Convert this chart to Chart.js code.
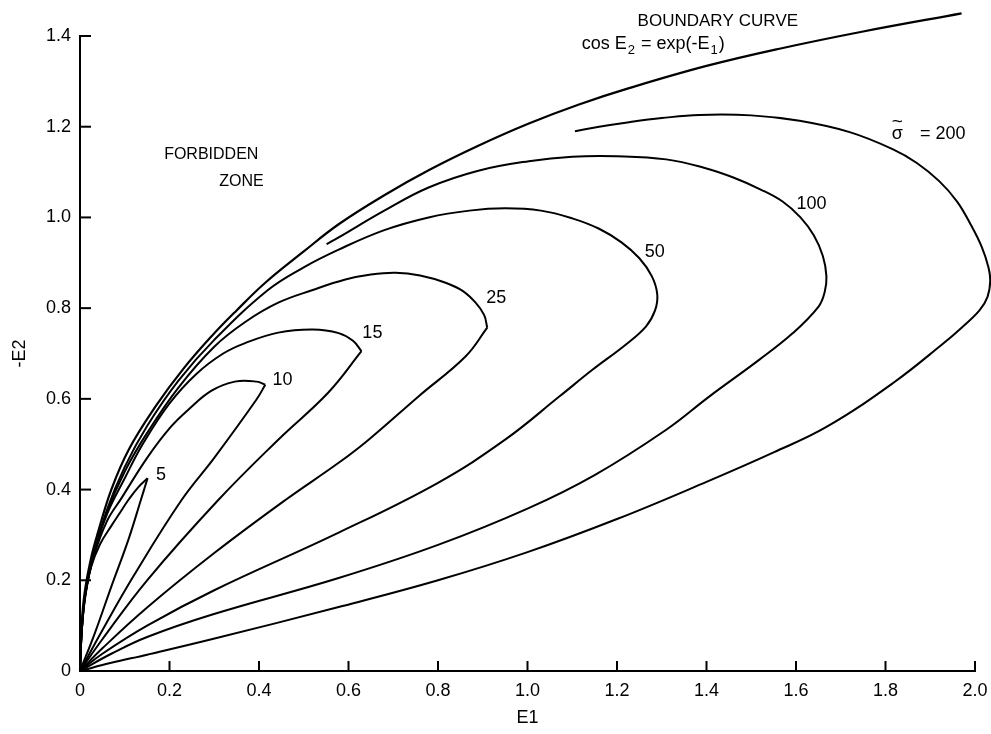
<!DOCTYPE html>
<html><head><meta charset="utf-8">
<script src="https://cdn.jsdelivr.net/npm/chart.js@4.4.0/dist/chart.umd.min.js"></script>
<style>html,body{margin:0;padding:0;background:#fff;}canvas{display:block;}</style>
</head><body>
<canvas id="c" width="991" height="734"></canvas>
<script>
// ---- tick labels ----
const xTickValues = [0,0.2,0.4,0.6,0.8,1.0,1.2,1.4,1.6,1.8,2.0];
const xTickLabels = ['0','0.2','0.4','0.6','0.8','1.0','1.2','1.4','1.6','1.8','2.0'];
const yTickValues = [0,0.2,0.4,0.6,0.8,1.0,1.2,1.4];
const yTickLabels = ['0','0.2','0.4','0.6','0.8','1.0','1.2','1.4'];

// ---- boundary curve  cos E2 = exp(-E1) ----
const boundaryE1 = [0,0.003,0.01,0.025,0.04,0.07,0.11,0.17,0.23,0.294,0.35,0.414,0.5,0.578,0.68,0.779,0.89,1.003,1.115,1.227,1.4,1.563,1.75,1.97];
const boundaryE2 = [0,0.09,0.17,0.25,0.305,0.40,0.49,0.585,0.665,0.738,0.795,0.856,0.925,0.985,1.049,1.104,1.158,1.207,1.249,1.285,1.334,1.372,1.41,1.45];

// ---- sigma = 5 ----
const s5UpperE1 = [0,0.004,0.012,0.025,0.045,0.07,0.09,0.108,0.13,0.151];
const s5UpperE2 = [0,0.09,0.165,0.23,0.28,0.32,0.35,0.377,0.405,0.425];
const s5LowerE1 = [0.151,0.136,0.108,0.07,0.033,0];
const s5LowerE2 = [0.425,0.377,0.289,0.186,0.083,0];

// ---- sigma = 10 ----
const s10UpperE1 = [0,0.004,0.012,0.03,0.06,0.092,0.15,0.2,0.242,0.294,0.346,0.395,0.414];
const s10UpperE2 = [0,0.09,0.17,0.25,0.33,0.38,0.47,0.535,0.576,0.618,0.638,0.638,0.631];
const s10LowerE1 = [0.414,0.394,0.3,0.227,0.12,0.05,0];
const s10LowerE2 = [0.631,0.598,0.47,0.377,0.21,0.09,0];

// ---- sigma = 15 ----
const s15UpperE1 = [0,0.004,0.012,0.03,0.06,0.1,0.14,0.2,0.26,0.32,0.369,0.443,0.52,0.578,0.61,0.629];
const s15UpperE2 = [0,0.09,0.17,0.255,0.345,0.425,0.5,0.59,0.655,0.7,0.723,0.746,0.753,0.745,0.728,0.705];
const s15LowerE1 = [0.629,0.555,0.443,0.309,0.15,0.05,0];
const s15LowerE2 = [0.705,0.614,0.51,0.377,0.2,0.07,0];

// ---- sigma = 25 ----
const s25UpperE1 = [0,0.004,0.012,0.03,0.06,0.1,0.15,0.22,0.3,0.37,0.443,0.52,0.593,0.65,0.705,0.76,0.817,0.855,0.884,0.903,0.91];
const s25UpperE2 = [0,0.09,0.17,0.255,0.35,0.44,0.525,0.625,0.715,0.77,0.812,0.84,0.863,0.874,0.878,0.872,0.856,0.838,0.812,0.785,0.757];
const s25LowerE1 = [0.91,0.862,0.757,0.645,0.578,0.459,0.3,0.15,0.05,0];
const s25LowerE2 = [0.757,0.694,0.606,0.51,0.459,0.377,0.26,0.14,0.05,0];

// ---- sigma = 50 ----
const s50E1 = [0,0.004,0.012,0.03,0.06,0.1,0.15,0.22,0.3,0.42,0.5,0.578,0.68,0.779,0.87,0.95,1.03,1.1,1.16,1.21,1.25,1.278,1.29,1.285,1.265,1.22,1.145,1.071,0.95,0.8,0.578,0.3,0.15,0.05,0];
const s50E2 = [0,0.09,0.17,0.255,0.355,0.45,0.54,0.64,0.73,0.84,0.89,0.929,0.972,1.0,1.015,1.02,1.015,0.998,0.975,0.945,0.91,0.87,0.83,0.795,0.76,0.72,0.664,0.605,0.51,0.415,0.305,0.178,0.1,0.038,0];

// ---- sigma = 100 ----
const s100E1 = [0.551,0.578,0.68,0.779,0.89,1.003,1.1,1.2,1.31,1.4,1.46,1.52,1.57,1.61,1.64,1.66,1.668,1.664,1.65,1.593,1.519,1.406,1.31,1.15,1.0,0.8,0.578,0.294,0.15,0.07,0];
const s100E2 = [0.941,0.956,1.015,1.066,1.103,1.124,1.134,1.135,1.128,1.108,1.088,1.062,1.035,1.0,0.96,0.915,0.87,0.835,0.803,0.745,0.687,0.605,0.532,0.432,0.358,0.278,0.205,0.124,0.075,0.038,0];

// ---- sigma = 200 ----
const s200E1 = [1.106,1.16,1.227,1.3,1.384,1.5,1.608,1.72,1.817,1.87,1.92,1.96,1.99,2.015,2.03,2.034,2.028,2.01,1.97,1.929,1.817,1.668,1.55,1.4,1.2,1.0,0.8,0.578,0.294,0.15,0.07,0];
const s200E2 = [1.19,1.2,1.21,1.219,1.226,1.225,1.213,1.188,1.15,1.12,1.08,1.035,0.985,0.935,0.89,0.86,0.825,0.795,0.757,0.722,0.635,0.538,0.482,0.417,0.335,0.262,0.2,0.141,0.07,0.036,0.018,0];

// ---- text annotations (data coordinates) ----
const noteTexts = ['FORBIDDEN','ZONE','BOUNDARY CURVE','cos E\u2082 = exp(-E\u2081)','\u03C3','~','= 200','100','50','25','15','10','5'];
const noteE1 = [0.188,0.311,1.246,1.121,1.814,1.814,1.877,1.601,1.262,0.908,0.631,0.43,0.17];
const noteE2 = [1.139,1.079,1.433,1.382,1.183,1.21,1.183,1.029,0.923,0.823,0.746,0.642,0.433];
const noteSizes = [16,16,17,18,18,19,18,18,18,18,18,18,18];

function pts(xs, ys){ return xs.map((x,i)=>({x:x, y:ys[i]})); }
const FONT = "'Liberation Sans', 'DejaVu Sans', sans-serif";

const curveStyle = {showLine:true, borderColor:'#000', borderWidth:2, pointRadius:0, pointHoverRadius:0, fill:false, tension:0.4, clip:false};
const datasets = [
  {label:'boundary', data:pts(boundaryE1,boundaryE2), borderWidth:2.2},
  {label:'5 upper', data:pts(s5UpperE1,s5UpperE2)},
  {label:'5 lower', data:pts(s5LowerE1,s5LowerE2)},
  {label:'10 upper', data:pts(s10UpperE1,s10UpperE2)},
  {label:'10 lower', data:pts(s10LowerE1,s10LowerE2)},
  {label:'15 upper', data:pts(s15UpperE1,s15UpperE2)},
  {label:'15 lower', data:pts(s15LowerE1,s15LowerE2)},
  {label:'25 upper', data:pts(s25UpperE1,s25UpperE2)},
  {label:'25 lower', data:pts(s25LowerE1,s25LowerE2)},
  {label:'50', data:pts(s50E1,s50E2)},
  {label:'100', data:pts(s100E1,s100E2)},
  {label:'200', data:pts(s200E1,s200E2)}
].map(d=>Object.assign({}, curveStyle, d));

function drawRich(ctx, text, x, y, size){
  let cx = x;
  for (const ch of text) {
    const code = ch.charCodeAt(0);
    if (code >= 0x2080 && code <= 0x2089) {
      ctx.font = Math.round(size*0.72) + 'px ' + FONT;
      const s = String(code - 0x2080);
      ctx.fillText(s, cx + 1, y + size*0.32);
      cx += ctx.measureText(s).width + 2;
    } else {
      ctx.font = size + 'px ' + FONT;
      ctx.fillText(ch, cx, y);
      cx += ctx.measureText(ch).width;
    }
  }
}

const extras = {
  id:'extras',
  afterDraw(chart){
    const {ctx, chartArea, scales} = chart;
    const x = scales.x, y = scales.y;
    ctx.save();
    ctx.strokeStyle = '#000'; ctx.lineWidth = 2;
    xTickValues.forEach(v=>{
      if (v === 0) return;
      const px = x.getPixelForValue(v);
      ctx.beginPath(); ctx.moveTo(px, chartArea.bottom); ctx.lineTo(px, chartArea.bottom-10); ctx.stroke();
    });
    yTickValues.forEach(v=>{
      if (v === 0) return;
      const py = y.getPixelForValue(v);
      ctx.beginPath(); ctx.moveTo(chartArea.left, py); ctx.lineTo(chartArea.left+11, py); ctx.stroke();
    });
    ctx.fillStyle = '#000';
    ctx.textAlign = 'left'; ctx.textBaseline = 'middle';
    noteTexts.forEach((t,i)=>{
      drawRich(ctx, t, x.getPixelForValue(noteE1[i]), y.getPixelForValue(noteE2[i]), noteSizes[i]);
    });
    ctx.restore();
  }
};

new Chart(document.getElementById('c'), {
  type:'scatter',
  data:{datasets:datasets},
  options:{
    responsive:false, animation:false, devicePixelRatio:1,
    layout:{padding:{top:36, right:16, left:0, bottom:0}},
    elements:{line:{capBezierPoints:false}},
    plugins:{legend:{display:false}, tooltip:{enabled:false}},
    scales:{
      x:{type:'linear', position:'bottom', min:0, max:2.0,
        afterBuildTicks:s=>{ s.ticks = xTickValues.map(v=>({value:v})); },
        afterFit:s=>{ s.height = 63; },
        grid:{display:false},
        border:{display:true, color:'#000', width:2},
        ticks:{color:'#000', font:{family:FONT, size:18}, padding:1, maxRotation:0, autoSkip:false,
          callback:(v,i)=>xTickLabels[i]},
        title:{display:true, text:'E1', color:'#000', font:{family:FONT, size:18}, padding:{top:0, bottom:5}}
      },
      y:{type:'linear', position:'left', min:0, max:1.4,
        afterBuildTicks:s=>{ s.ticks = yTickValues.map(v=>({value:v})); },
        afterFit:s=>{ s.width = 80; },
        grid:{display:false},
        border:{display:true, color:'#000', width:2},
        ticks:{color:'#000', font:{family:FONT, size:18}, padding:1, autoSkip:false,
          callback:(v,i)=>yTickLabels[i]},
        title:{display:true, text:'-E2', color:'#000', font:{family:FONT, size:18}, padding:{top:9, bottom:0}}
      }
    }
  },
  plugins:[extras]
});
</script>
</body></html>
